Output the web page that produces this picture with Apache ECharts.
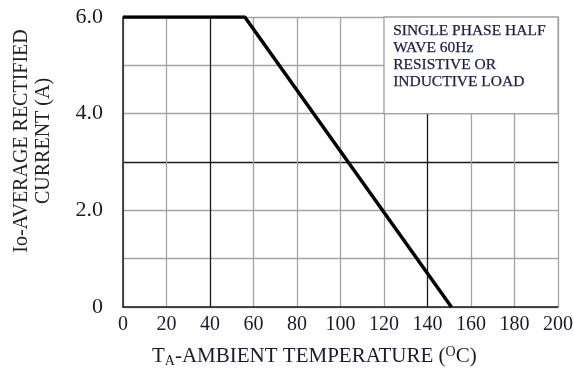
<!DOCTYPE html>
<html>
<head>
<meta charset="utf-8">
<script src="https://cdn.jsdelivr.net/npm/echarts@6/dist/echarts.min.js"></script>
<style>
html,body{margin:0;padding:0;background:#fff;}
#c{width:574px;height:370px;}
</style>
</head>
<body>
<div id="c"></div>
<script>
// Data
const temps = [0, 56, 151];
const currents = [6.0, 6.0, 0];
const yTickValues = [0, 2, 4, 6];
const yTickLabels = ['0', '2.0', '4.0', '6.0'];
const noteLines = ['SINGLE PHASE HALF', 'WAVE 60Hz', 'RESISTIVE OR', 'INDUCTIVE LOAD'];
const noteArea = [[120, 6], [200, 4]];
const yTitleLines = ['Io-AVERAGE RECTIFIED', 'CURRENT (A)'];

const FONT = '"Liberation Serif", "DejaVu Serif", serif';
const G = '#a3a3a3', D = '#1a1a1a', TXT = '#1a1a2e';

const chart = echarts.init(document.getElementById('c'), null, {renderer: 'canvas'});
chart.setOption({
  animation: false,
  backgroundColor: '#fff',
  grid: {left: 123, right: 16, top: 17, bottom: 63, containLabel: false, outerBoundsMode: 'none'},
  title: {
    text: 'T{sub|A}-AMBIENT TEMPERATURE ({sup|O}C)',
    left: 147, top: 340,
    textStyle: {
      fontFamily: FONT, fontWeight: 'normal', fontSize: 21, color: TXT,
      rich: {
        sub: {fontFamily: FONT, fontSize: 14, color: TXT, verticalAlign: 'bottom', padding: [9, 0, 0, 0]},
        sup: {fontFamily: FONT, fontSize: 14, color: TXT, verticalAlign: 'top', padding: [0, 0, 9, 0]}
      }
    }
  },
  graphic: [
    {
      type: 'text', x: 33, y: 141, rotation: Math.PI / 2, z: 10,
      style: {
        text: yTitleLines.join('\n'), fontFamily: FONT, fontSize: 20, lineHeight: 22,
        fill: '#222', align: 'center', verticalAlign: 'middle'
      }
    },
    {
      type: 'text', left: 393, top: 23, z: 10,
      style: {
        text: noteLines.join('\n'), fontFamily: FONT, fontSize: 15.5, lineHeight: 16.8,
        fill: '#1c1c44', stroke: '#1c1c44', lineWidth: 0.25
      }
    }
  ],
  xAxis: {
    type: 'value', min: 0, max: 200, interval: 20,
    axisLine: {show: true, onZero: false, lineStyle: {color: D, width: 1.5}},
    axisTick: {show: false},
    axisLabel: {fontFamily: FONT, fontSize: 20, color: TXT, margin: 8},
    splitLine: {show: true, lineStyle: {color: [G, G, D, G, G, G, G, D, G, G, G], width: 1.3}}
  },
  yAxis: {
    type: 'value', min: 0, max: 6, interval: 1,
    axisLine: {show: true, onZero: false, lineStyle: {color: D, width: 1.5}},
    axisTick: {show: false},
    axisLabel: {
      fontFamily: FONT, fontSize: 22, color: TXT, margin: 20,
      formatter: function (v) {
        const i = yTickValues.indexOf(v);
        return i >= 0 ? yTickLabels[i] : '';
      }
    },
    splitLine: {show: true, lineStyle: {color: [G, G, G, D, G, G, G], width: 1.3}}
  },
  series: [{
    type: 'line',
    data: temps.map((t, i) => [t, currents[i]]),
    symbol: 'none',
    lineStyle: {color: '#000', width: 3.5},
    z: 5,
    markArea: {
      silent: true,
      itemStyle: {color: '#fff', borderColor: G, borderWidth: 1.3},
      label: {show: false},
      data: [[{coord: noteArea[0]}, {coord: noteArea[1]}]]
    }
  }]
});
</script>
</body>
</html>
